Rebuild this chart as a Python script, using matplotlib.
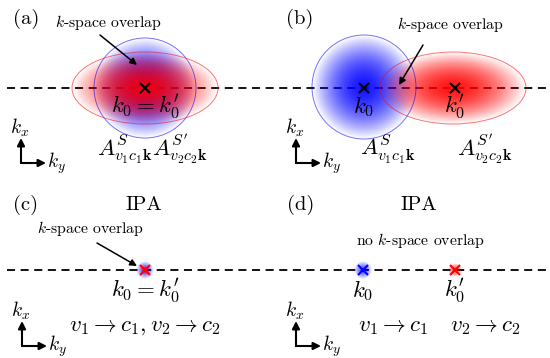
import numpy as np
import matplotlib
matplotlib.use("Agg")
import matplotlib.pyplot as plt
from matplotlib.patches import Ellipse

plt.rcParams['font.family'] = ['cmr10']
plt.rcParams['mathtext.fontset'] = 'cm'
plt.rcParams['axes.formatter.use_mathtext'] = True
plt.rcParams['lines.scale_dashes'] = False

W, H = 550, 358
fig = plt.figure(figsize=(W / 100, H / 100), dpi=100)
ax = fig.add_axes([0, 0, 1, 1])
ax.set_xlim(0, W)
ax.set_ylim(H, 0)
ax.axis('off')

# --- schematic data (pixel-space layout of the sketch) ---
panel_labels = ["(a)", "(b)", "(c)", "(d)"]
row_y = [88, 270]               # dashed k-lines
# wavefunction blobs: (cx, cy, half-width, half-height, colour, outline)
blobs_a = [(145, 88, 51, 50, 'blue', True), (145, 88, 73, 36, 'red', True)]
blobs_b = [(364, 87, 52, 52, 'blue', True), (453, 88, 73, 36, 'red', True)]
blobs_c = [(145, 270, 9, 9, 'blue', False), (145, 270, 5, 5, 'red', False)]
blobs_d = [(363, 270, 9, 9, 'blue', False), (455, 270, 7, 7, 'red', False)]
markers = [(145, 88, 'black'), (364, 88, 'black'), (455, 88, 'black'),
           (145, 270, 'red'), (363, 270, 'blue'), (455, 270, 'red')]


def blob(cx, cy, a, b, color, outline, amax=0.92, p=1.7):
    n = 220
    xs = np.linspace(cx - a, cx + a, n)
    ys = np.linspace(cy - b, cy + b, n)
    X, Y = np.meshgrid(xs, ys)
    r = np.sqrt(((X - cx) / a) ** 2 + ((Y - cy) / b) ** 2)
    alpha = np.clip(1 - r ** p, 0, 1) * amax
    rgba = np.zeros((n, n, 4))
    rgb = {'blue': (0, 0, 1), 'red': (1, 0, 0)}[color]
    rgba[..., 0], rgba[..., 1], rgba[..., 2] = rgb
    rgba[..., 3] = alpha
    ax.imshow(rgba, extent=(cx - a, cx + a, cy + b, cy - b), origin='upper',
              interpolation='bilinear', zorder=3, aspect='auto')
    if outline:
        ax.add_patch(Ellipse((cx, cy), 2 * a, 2 * b, fill=False, lw=0.7,
                             ec=color, alpha=0.55, zorder=4))


# dashed lines
for y in row_y:
    ax.plot([7, 550], [y, y], color='black', lw=1.3, ls=(0, (5.8, 4.0)), zorder=2)

for bl in blobs_a + blobs_b:
    blob(*bl)
for bl in blobs_c + blobs_d:
    blob(*bl, amax=0.75, p=1.3)

for (x, y, c) in markers:
    ax.plot(x, y, marker='x', color=c, ms=7, mew=1.5, zorder=6)

# panel labels
for lab, (x, y) in zip(panel_labels, [(26, 19), (300, 19), (26, 205), (301, 205)]):
    ax.text(x, y, lab, fontsize=14.8, ha='center', va='center')
for x in [144, 419]:
    ax.text(x, 205, "IPA", fontsize=14.8, ha='center', va='center')

fs = 16.5
sfs = 11.3
arr = dict(arrowstyle='-|>', color='black', lw=1.1, mutation_scale=10,
           shrinkA=0, shrinkB=0)
# (a)
ax.text(108, 23, r"$k$-space overlap", fontsize=sfs, ha='center', va='center')
ax.annotate("", xy=(137, 65), xytext=(100, 35), arrowprops=arr, zorder=7)
ax.text(145, 113, r"$k_0 = k_0'$", fontsize=fs, ha='center', va='baseline', zorder=7)
ax.text(152, 155, r"$A^{S}_{v_1c_1\mathbf{k}}A^{S'}_{v_2c_2\mathbf{k}}$", fontsize=fs,
        ha='center', va='baseline')
# (b)
ax.text(450, 25, r"$k$-space overlap", fontsize=sfs, ha='center', va='center')
ax.annotate("", xy=(399, 85), xytext=(423, 45), arrowprops=arr, zorder=7)
ax.text(364, 113, r"$k_0$", fontsize=fs, ha='center', va='baseline', zorder=7)
ax.text(455, 113, r"$k_0'$", fontsize=fs, ha='center', va='baseline', zorder=7)
ax.text(388, 155, r"$A^{S}_{v_1c_1\mathbf{k}}$", fontsize=fs, ha='center', va='baseline')
ax.text(485, 155, r"$A^{S'}_{v_2c_2\mathbf{k}}$", fontsize=fs, ha='center', va='baseline')
# (c)
ax.text(90, 229, r"$k$-space overlap", fontsize=sfs, ha='center', va='center')
ax.annotate("", xy=(137, 266), xytext=(97, 243), arrowprops=arr, zorder=7)
ax.text(145, 297, r"$k_0 = k_0'$", fontsize=fs, ha='center', va='baseline')
ax.text(145, 331, r"$v_1 \rightarrow c_1, v_2 \rightarrow c_2$", fontsize=fs,
        ha='center', va='baseline')
# (d)
ax.text(420, 240, r"no $k$-space overlap", fontsize=sfs, ha='center', va='center')
ax.text(363, 297, r"$k_0$", fontsize=fs, ha='center', va='baseline')
ax.text(455, 297, r"$k_0'$", fontsize=fs, ha='center', va='baseline')
ax.text(393, 331, r"$v_1 \rightarrow c_1$", fontsize=fs, ha='center', va='baseline')
ax.text(485, 331, r"$v_2 \rightarrow c_2$", fontsize=fs, ha='center', va='baseline')

# k-axes indicators
for (ox, oy) in [(21, 163), (296, 163), (22, 346), (296, 346)]:
    for (dx, dy) in [(0, -25), (25, 0)]:
        ax.annotate("", xy=(ox + dx, oy + dy), xytext=(ox, oy),
                    arrowprops=dict(arrowstyle='-|>', color='black', lw=1.5,
                                    mutation_scale=11, shrinkA=0, shrinkB=0))
    ax.text(ox - 1, oy - 35, r"$k_x$", fontsize=14, ha='center', va='center')
    ax.text(ox + 35, oy, r"$k_y$", fontsize=14, ha='center', va='center')

fig.savefig("out.png", dpi=100)
